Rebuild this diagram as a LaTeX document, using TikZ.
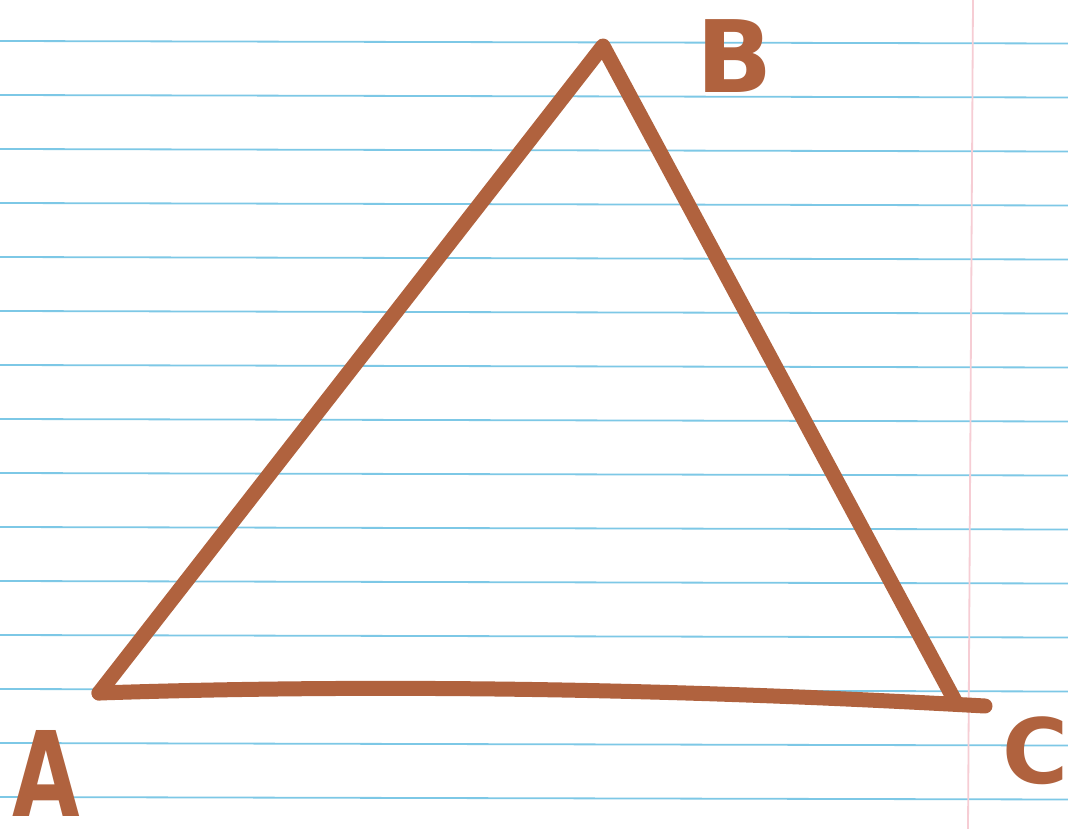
\documentclass[tikz,border=0pt]{standalone}
\usepackage{fontspec}
\setmainfont{DejaVu Sans}
\definecolor{ink}{RGB}{176,98,62}
\definecolor{rule}{RGB}{125,200,230}
\definecolor{margin}{RGB}{246,205,212}
\begin{document}
\begin{tikzpicture}[x=1pt,y=-1pt,
  ruled/.style={draw=rule,line width=1.8pt},
  marginline/.style={draw=margin,line width=1.8pt},
  pen/.style={draw=ink,line width=15pt,line cap=round,line join=round},
  letter/.style={text=ink,inner sep=0pt,anchor=base,font=\bfseries\fontsize{#1}{#1}\selectfont}]
\useasboundingbox (0,0) rectangle (1068,829);
\fill[white] (0,0) rectangle (1068,829);
\foreach \k in {0,...,14}{
  \draw[ruled] (0,{41+54*\k}) -- (1068,{43.5+54*\k});
}
\draw[marginline] (973,0) -- (968,829);
\coordinate (A) at (99,693);
\coordinate (B) at (603,46);
\coordinate (Cc) at (955,701);
\coordinate (E) at (985,706);
\draw[pen] (A) -- (B) -- (Cc);
\draw[pen] (A) .. controls (400,683) and (700,690) .. (E);
\node[letter=118,xscale=0.74] (la) at (46,816) {A};
\node[letter=100] (lb) at (735,93) {B};
\node[letter=90] (lc) at (1036,783) {C};
\end{tikzpicture}
\end{document}
